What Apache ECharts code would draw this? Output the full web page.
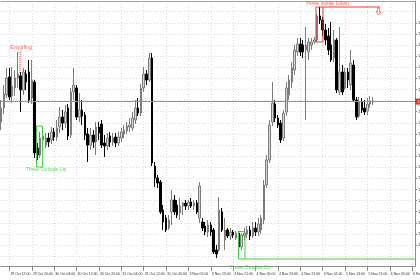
<!DOCTYPE html>
<html><head><meta charset="utf-8">
<script src="https://cdn.jsdelivr.net/npm/echarts@6/dist/echarts.min.js"></script>
<style>html,body{margin:0;padding:0;background:#fff}#c{width:420px;height:280px}</style>
</head><body><div id="c"></div>
<script>
// hourly sessions: [day, first hour, last hour]
const sessions = [['29 Oct',9,23],['30 Oct',0,23],['31 Oct',0,23],['3 Nov',1,23],['4 Nov',0,23],['5 Nov',0,23],['6 Nov',0,14]];
const categories = [];
sessions.forEach(([d,a,b]) => { for (let h=a; h<=b; h++) categories.push(d + ' ' + String(h).padStart(2,'0') + ':00'); });

// [open, close, low, high]
const ohlc = [
[1.25307,1.25433,1.25235,1.25505],[1.25433,1.25559,1.25379,1.25640],[1.25550,1.25703,1.25523,1.25793],[1.25712,1.25532,1.25505,1.25793],
[1.25541,1.25631,1.25478,1.25802],[1.25613,1.25703,1.25541,1.25775],[1.25703,1.25739,1.25613,1.25937],[1.25721,1.25595,1.25397,1.25757],
[1.25595,1.25757,1.25550,1.25793],[1.25739,1.25667,1.25595,1.25775],[1.25757,1.25505,1.25478,1.25865],[1.25523,1.25685,1.25469,1.25865],
[1.25667,1.25028,1.24983,1.25685],[1.25073,1.25010,1.24965,1.25118],[1.25010,1.25163,1.24983,1.25217],[1.25145,1.25181,1.25073,1.25253],
[1.25100,1.25163,1.25073,1.25208],[1.25163,1.25127,1.25082,1.25208],[1.25145,1.25217,1.25109,1.25262],[1.25217,1.25172,1.25136,1.25253],
[1.25172,1.25253,1.25136,1.25325],[1.25262,1.25352,1.25208,1.25442],[1.25352,1.25298,1.25235,1.25415],[1.25298,1.25397,1.25253,1.25460],
[1.25433,1.25181,1.25145,1.25469],[1.25190,1.25577,1.25163,1.25613],[1.25577,1.25640,1.25505,1.25793],[1.25613,1.25352,1.25325,1.25640],
[1.25352,1.25415,1.25307,1.25568],[1.25415,1.25361,1.25280,1.25505],[1.25370,1.25190,1.25145,1.25397],[1.25199,1.25100,1.24947,1.25253],
[1.25100,1.25190,1.25055,1.25253],[1.25190,1.25127,1.25073,1.25235],[1.25127,1.25262,1.25010,1.25307],[1.25262,1.25208,1.25145,1.25307],
[1.25289,1.25100,1.25073,1.25325],[1.25118,1.25091,1.24992,1.25190],[1.25091,1.25163,1.25055,1.25208],[1.25181,1.25127,1.25082,1.25217],
[1.25127,1.25163,1.25091,1.25208],[1.25172,1.25118,1.25082,1.25208],[1.25118,1.25172,1.25091,1.25217],[1.25163,1.25217,1.25127,1.25253],
[1.25199,1.25235,1.25163,1.25280],[1.25226,1.25271,1.25199,1.25307],[1.25262,1.25280,1.25217,1.25343],[1.25253,1.25343,1.25226,1.25397],
[1.25325,1.25433,1.25289,1.25505],[1.25433,1.25388,1.25361,1.25523],[1.25388,1.25613,1.25361,1.25649],[1.25613,1.25739,1.25577,1.25802],
[1.25739,1.25685,1.25640,1.25775],[1.25685,1.25883,1.25667,1.25928],[1.25883,1.24938,1.24911,1.25928],[1.24911,1.24803,1.24722,1.24947],
[1.24803,1.24758,1.24713,1.24830],[1.24767,1.24497,1.24479,1.24785],[1.24515,1.24407,1.24335,1.24560],[1.24443,1.24335,1.24317,1.24470],
[1.24353,1.24425,1.24335,1.24470],[1.24497,1.24605,1.24380,1.24695],[1.24605,1.24497,1.24470,1.24650],[1.24560,1.24470,1.24443,1.24605],
[1.24488,1.24551,1.24425,1.24623],[1.24551,1.24578,1.24470,1.24587],[1.24578,1.24551,1.24515,1.24605],[1.24551,1.24587,1.24515,1.24605],
[1.24587,1.24551,1.24533,1.24623],[1.24551,1.24578,1.24515,1.24605],[1.24578,1.24497,1.24479,1.24605],[1.24443,1.24731,1.24398,1.24767],
[1.24407,1.24353,1.24326,1.24443],[1.24371,1.24317,1.24290,1.24407],[1.24317,1.24380,1.24272,1.24425],[1.24380,1.24317,1.24281,1.24407],
[1.24335,1.24137,1.24119,1.24353],[1.24155,1.24119,1.24083,1.24200],[1.24155,1.24515,1.24137,1.24632],[1.24497,1.24335,1.24317,1.24533],
[1.24245,1.24335,1.24155,1.24443],[1.24335,1.24281,1.24263,1.24353],[1.24281,1.24317,1.24245,1.24353],[1.24317,1.24290,1.24263,1.24335],
[1.24263,1.24308,1.24245,1.24326],[1.24308,1.24182,1.24083,1.24326],[1.24182,1.24290,1.24155,1.24308],[1.24281,1.24308,1.24245,1.24353],
[1.24299,1.24335,1.24263,1.24371],[1.24335,1.24281,1.24245,1.24371],[1.24281,1.24353,1.24263,1.24407],[1.24353,1.24317,1.24281,1.24407],
[1.24317,1.24389,1.24281,1.24443],[1.24335,1.24443,1.24299,1.24470],[1.24425,1.24740,1.24389,1.24785],[1.24740,1.24965,1.24713,1.25010],
[1.24965,1.25280,1.24938,1.25325],[1.25307,1.25478,1.25271,1.25667],[1.25469,1.25343,1.25307,1.25505],[1.25343,1.25280,1.25253,1.25370],
[1.25298,1.25145,1.25118,1.25325],[1.25163,1.25388,1.25136,1.25415],[1.25397,1.25613,1.25361,1.25667],[1.25550,1.25685,1.25505,1.25730],
[1.25667,1.25793,1.25613,1.25847],[1.25775,1.25955,1.25730,1.26000],[1.25937,1.26009,1.25901,1.26063],[1.26009,1.25937,1.25901,1.26063],
[1.26000,1.25937,1.25883,1.26045],[1.25955,1.26000,1.25325,1.26162],[1.25937,1.26027,1.25865,1.26063],[1.26000,1.26027,1.25955,1.26063],
[1.26027,1.26045,1.26009,1.26072],[1.26045,1.26261,1.26027,1.26279],[1.26261,1.26225,1.26189,1.26342],[1.26225,1.26135,1.26081,1.26252],
[1.26135,1.26045,1.26000,1.26189],[1.26081,1.25955,1.25910,1.26153],[1.26000,1.25865,1.25847,1.26207],[1.25883,1.26045,1.25847,1.26135],
[1.26045,1.25595,1.25568,1.26063],[1.25577,1.25757,1.25550,1.26162],[1.25757,1.25577,1.25550,1.25820],[1.25613,1.25757,1.25595,1.25793],
[1.25757,1.25685,1.25613,1.25793],[1.25640,1.25838,1.25595,1.25955],[1.25820,1.25505,1.25487,1.25865],[1.25505,1.25352,1.25325,1.25532],
[1.25361,1.25487,1.25343,1.25532],[1.25487,1.25415,1.25388,1.25523],[1.25433,1.25397,1.25370,1.25505],[1.25406,1.25469,1.25370,1.25523],
[1.25469,1.25487,1.25433,1.25541],[1.25487,1.25496,1.25460,1.25532]
];

const priceTicks = [1.241,1.242,1.243,1.244,1.245,1.246,1.247,1.248,1.249,1.250,1.251,1.252,1.253,1.254,1.255,1.256,1.257,1.258,1.259,1.260,1.261,1.262,1.263];
const currentPrice = 1.25491;

// pattern annotations in data space: [bar position, price]
const engulfingMark = [[6.8,1.25937],[6.8,1.25748]];
const outsideUpBox1 = [[12.7,1.25271],[14.8,1.25271],[14.8,1.24902],[12.7,1.24902],[12.7,1.25271]];
const outsideUpBox2 = [[84.9,1.24321],[87.2,1.24321],[87.2,1.24074],[84.9,1.24074],[84.9,1.24321]];
const outsideUpLine2 = [[87.2,1.24074],[148,1.24074]];
const insideDownBox = [[112.6,1.26342],[115.1,1.26342],[115.1,1.26027],[112.6,1.26027],[112.6,1.26342]];
const insideDownLine = [[115.1,1.26342],[135.5,1.26342]];
const insideDownArrow = [[135.0,1.26302]];
const patternLabels = [
  {name:'Engulfing', value:[7.15,1.25973], color:'#ee3a32', pos:'inside'},
  {name:'Three Outside Up', value:[16.1,1.24875], color:'#44cc44', pos:'inside'},
  {name:'Three Outside Up', value:[89.0,1.24074], color:'#44cc44', pos:'bottom'},
  {name:'Three Inside Down', value:[116.6,1.26369], color:'#ee3a32', pos:'inside'}
];

const RED = '#ee3a32', GREEN = '#44cc44', GRID = '#dadada', AX = '#8c8c8c';
const FONT = 'Liberation Sans';
const every8 = (i) => i % 8 === 3;

function lineSeries(data, color, type, z) {
  return { type:'line', xAxisIndex:1, yAxisIndex:0, data, symbol:'none', clip:false, silent:true, color,
    lineStyle:{color, width:1, type:type||'solid', opacity:1}, itemStyle:{color}, z:z||5 };
}

const priceLineSeries = lineSeries(engulfingMark, RED, [1,1]);
priceLineSeries.markLine = { silent:true, symbol:'none', animation:false, precision:5,
  lineStyle:{color:'#ff6464', width:1, type:'solid', opacity:1},
  label:{show:true, position:'end', distance:0, formatter:currentPrice.toFixed(5), backgroundColor:'#e23030', color:'#fff', fontSize:4, padding:[1,2], fontFamily:FONT},
  data:[{yAxis:currentPrice}] };
priceLineSeries.z = 3;

const chart = echarts.init(document.getElementById('c'), null, {renderer:'canvas'});
chart.setOption({
  animation:false,
  backgroundColor:'#ffffff',
  grid:{left:1, right:5, top:1, bottom:14, containLabel:false, outerBoundsMode:'none'},
  xAxis:[
    { type:'category', data:categories, boundaryGap:false, position:'bottom',
      axisLine:{show:true, onZero:false, lineStyle:{color:AX, width:1}},
      axisTick:{show:true, interval:every8, length:5, lineStyle:{color:AX}},
      axisLabel:{interval:every8, align:'left', fontSize:3.5, color:'#333', margin:6, padding:[0,0,0,1], fontFamily:FONT, hideOverlap:false},
      splitLine:{show:true, interval:every8, lineStyle:{color:GRID, type:[1,2]}} },
    { type:'value', min:0, max:148, position:'top', show:true,
      axisLine:{show:true, onZero:false, lineStyle:{color:'#a0a0a0', width:1}},
      axisTick:{show:false}, axisLabel:{show:false}, splitLine:{show:false} }
  ],
  yAxis:[{ type:'value', position:'right', scale:true, min:1.24011, max:1.26396, minInterval:0.001, maxInterval:0.001, splitNumber:24,
      axisLine:{show:true, onZero:false, lineStyle:{color:AX, width:1}},
      axisTick:{show:true, inside:false, length:2, customValues:priceTicks, lineStyle:{color:AX}},
      axisLabel:{customValues:priceTicks, formatter:(v)=>v.toFixed(5), fontSize:4, color:'#333', margin:3, fontFamily:FONT, showMinLabel:false, showMaxLabel:false},
      splitLine:{show:true, lineStyle:{color:GRID, type:[1,2]}} }],
  series:[
    priceLineSeries,
    { type:'candlestick', xAxisIndex:0, yAxisIndex:0, data:ohlc, barWidth:2, z:4,
      itemStyle:{color:'#d6d6d6', color0:'#000000', borderColor:'#7d7d7d', borderColor0:'#000000', borderWidth:1} },
    lineSeries(outsideUpBox1, GREEN),
    lineSeries(outsideUpBox2, GREEN),
    lineSeries(outsideUpLine2, GREEN),
    lineSeries(insideDownBox, RED),
    lineSeries(insideDownLine, RED),
    { type:'scatter', xAxisIndex:1, yAxisIndex:0, data:insideDownArrow, clip:false, silent:true, z:6,
      symbol:'path://M3,0 L7,0 L7,6 L10,6 L5,11 L0,6 L3,6 Z', symbolSize:[5,7],
      itemStyle:{color:'rgba(255,255,255,0)', borderColor:RED, borderWidth:0.8} },
    { type:'scatter', xAxisIndex:1, yAxisIndex:0, clip:false, silent:true, z:7, symbolSize:1,
      itemStyle:{color:'rgba(0,0,0,0)'},
      data:patternLabels.map(p => ({name:p.name, value:p.value,
        label:{show:true, position:p.pos, distance:p.pos==='bottom'?6:2, formatter:'{b}', color:p.color, fontSize:5.2, fontFamily:FONT}})) }
  ]
});
</script></body></html>
